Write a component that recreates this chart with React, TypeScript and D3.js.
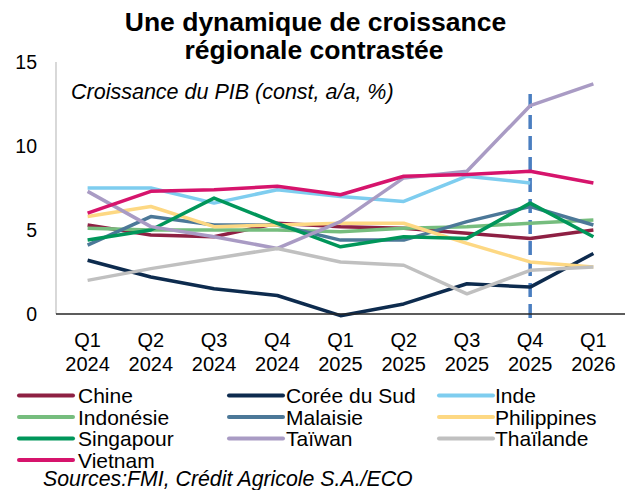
import React from "react";
import * as d3 from "d3";

const categories = ["Q1 2024", "Q2 2024", "Q3 2024", "Q4 2024", "Q1 2025", "Q2 2025", "Q3 2025", "Q4 2025", "Q1 2026"];

const chine = [5.3, 4.7, 4.6, 5.4, 5.2, 5.1, 4.8, 4.5, 5.0];
const coree = [3.2, 2.2, 1.5, 1.1, -0.1, 0.6, 1.8, 1.6, 3.6];
const inde = [7.5, 7.5, 6.6, 7.4, 7.0, 6.7, 8.2, 7.8, null];
const indonesie = [5.1, 5.0, 5.0, 5.0, 4.9, 5.1, 5.2, 5.4, 5.6];
const malaisie = [4.1, 5.8, 5.3, 5.3, 4.4, 4.4, 5.5, 6.4, 5.3];
const philippines = [5.8, 6.4, 5.2, 5.3, 5.4, 5.4, 4.2, 3.1, 2.8];
const singapour = [4.4, 5.0, 6.9, 5.4, 4.0, 4.6, 4.5, 6.6, 4.6];
const taiwan = [7.3, 5.2, 4.6, 3.9, 5.5, 8.1, 8.5, 12.4, 13.7];
const thailande = [2.0, 2.7, 3.3, 3.9, 3.1, 2.9, 1.2, 2.6, 2.8];
const vietnam = [6.0, 7.3, 7.4, 7.6, 7.1, 8.2, 8.3, 8.5, 7.8];

const seriesNames = ["Chine", "Corée du Sud", "Inde", "Indonésie", "Malaisie", "Philippines", "Singapour", "Taïwan", "Thaïlande", "Vietnam"];
const seriesValues = [chine, coree, inde, indonesie, malaisie, philippines, singapour, taiwan, thailande, vietnam];
const seriesColors = ["#8E2043", "#0D2B4E", "#7ECDEF", "#76BD7E", "#4C7898", "#FDD883", "#00965A", "#A99BC4", "#C0C0C0", "#D6146C"];

const yTicks = [0, 5, 10, 15];
const forecastCategory = "Q4 2025";
const forecastRange = [-0.25, 13.1];

const title = ["Une dynamique de croissance", "régionale contrastée"];
const subtitle = "Croissance du PIB (const, a/a, %)";
const source = "Sources:FMI, Crédit Agricole S.A./ECO";

const W = 630;
const H = 490;
const left = 56;
const right = 625;
const top = 62;
const bottom = 314;

export default function App() {
  const x = d3.scalePoint<string>().domain(categories).range([left, right]).padding(0.5);
  const y = d3.scaleLinear().domain([0, 15]).range([bottom, top]);
  const line = d3
    .line<number | null>()
    .defined((d) => d !== null)
    .x((_, i) => x(categories[i]) as number)
    .y((d) => y(d as number));

  const font = "Liberation Sans, Arial, sans-serif";
  const legendCols = [19, 229, 439];
  const legendLabelX = [78, 286, 495];
  const legendRowY = (r: number) => 395.5 + r * 21.5;

  return (
    <svg width={W} height={H} style={{ position: "absolute", left: 0, top: 0, background: "#fff" }} fontFamily={font}>
      <text x={315.5} y={30.5} textAnchor="middle" fontSize={26.5} fontWeight="bold" fill="#000">{title[0]}</text>
      <text x={314} y={59} textAnchor="middle" fontSize={26.5} fontWeight="bold" fill="#000">{title[1]}</text>

      <line x1={left} x2={left} y1={top} y2={bottom} stroke="#BFBFBF" strokeWidth={1.2} />
      {yTicks.map((t) => (
        <text key={t} x={37} y={y(t)} dy="0.36em" textAnchor="end" fontSize={19.5} fill="#000">{t}</text>
      ))}

      <text x={71} y={98.5} fontSize={21.5} fontStyle="italic" fill="#000">{subtitle}</text>

      <line
        x1={x(forecastCategory) as number}
        x2={x(forecastCategory) as number}
        y1={y(forecastRange[1])}
        y2={y(forecastRange[0])}
        stroke="#4A7EC0"
        strokeWidth={3.5}
        strokeDasharray="14 7"
      />

      {seriesValues.map((vals, i) => (
        <path key={seriesNames[i]} d={line(vals) || ""} fill="none" stroke={seriesColors[i]} strokeWidth={3.5} strokeLinejoin="round" />
      ))}

      <line x1={left} x2={right} y1={bottom} y2={bottom} stroke="#262626" strokeWidth={1.5} />

      {categories.map((c) => {
        const [q, yr] = c.split(" ");
        return (
          <g key={c}>
            <text x={x(c) as number} y={347} textAnchor="middle" fontSize={20} fill="#000">{q}</text>
            <text x={x(c) as number} y={371} textAnchor="middle" fontSize={20} fill="#000">{yr}</text>
          </g>
        );
      })}

      {seriesNames.map((name, i) => {
        const col = i % 3;
        const row = Math.floor(i / 3);
        const yy = legendRowY(row);
        return (
          <g key={name}>
            <line x1={legendCols[col]} x2={legendCols[col] + 54} y1={yy} y2={yy} stroke={seriesColors[i]} strokeWidth={4} strokeLinecap="round" />
            <text x={legendLabelX[col]} y={yy} dy="0.36em" fontSize={21} fill="#000">{name}</text>
          </g>
        );
      })}

      <text x={43} y={485.5} fontSize={21.3} fontStyle="italic" fill="#000">{source}</text>
    </svg>
  );
}
